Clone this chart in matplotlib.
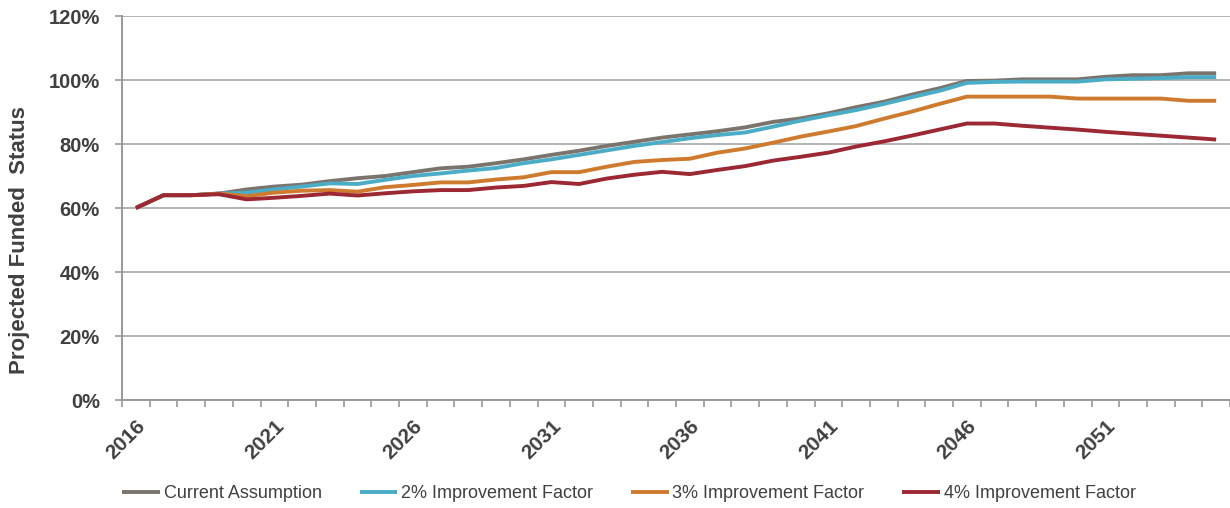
import matplotlib
matplotlib.use("Agg")
import matplotlib.pyplot as plt
import numpy as np
from matplotlib.ticker import FixedLocator, FuncFormatter

years = list(range(2016, 2056))
current = [60, 64, 64, 64.5, 65.8, 66.7, 67.3, 68.4, 69.3, 70.0,
           71.2, 72.4, 72.9, 74.0, 75.2, 76.6, 77.9, 79.4, 80.7, 82.0,
           83.0, 84.0, 85.2, 86.9, 88.0, 89.6, 91.5, 93.2, 95.4, 97.4,
           99.7, 99.8, 100.2, 100.2, 100.2, 101.0, 101.5, 101.5, 102.1, 102.1]
imp2 = [60, 64, 64, 64.5, 64.8, 65.8, 66.7, 67.7, 67.5, 68.8,
        70.0, 70.8, 71.7, 72.5, 74.0, 75.2, 76.6, 78.0, 79.4, 80.6,
        81.8, 82.8, 83.6, 85.4, 87.3, 89.0, 90.6, 92.5, 94.6, 96.6,
        99.1, 99.4, 99.5, 99.5, 99.5, 100.2, 100.4, 100.6, 100.9, 100.9]
imp3 = [60, 64, 64, 64.5, 63.7, 64.8, 65.4, 65.6, 65.1, 66.5,
        67.2, 68.0, 68.0, 68.9, 69.6, 71.2, 71.2, 72.9, 74.4, 75.0,
        75.4, 77.3, 78.6, 80.4, 82.3, 83.9, 85.6, 87.9, 90.1, 92.5,
        94.8, 94.8, 94.8, 94.8, 94.2, 94.2, 94.2, 94.2, 93.5, 93.5]
imp4 = [60, 64, 64, 64.3, 62.7, 63.2, 63.8, 64.5, 63.9, 64.6,
        65.2, 65.6, 65.6, 66.4, 66.9, 68.1, 67.5, 69.2, 70.4, 71.3,
        70.6, 71.9, 73.1, 74.8, 76.0, 77.3, 79.2, 80.8, 82.6, 84.5,
        86.4, 86.4, 85.7, 85.1, 84.5, 83.8, 83.2, 82.6, 82.0, 81.4]
series_names = ["Current Assumption", "2% Improvement Factor",
                "3% Improvement Factor", "4% Improvement Factor"]
colors = ["#7b746d", "#4bacc6", "#cf7b2f", "#9b2833"]
label_years = [2016, 2021, 2026, 2031, 2036, 2041, 2046, 2051]
y_ticks = [0, 20, 40, 60, 80, 100, 120]

plt.rcParams['font.family'] = ['Liberation Sans', 'DejaVu Sans']

fig = plt.figure(figsize=(12.3, 5.08), dpi=100)
ax = fig.add_axes([122/1230, 1 - 400/508, (1230 - 122)/1230, (400 - 16)/508])

for vals, name, c in zip([current, imp2, imp3, imp4], series_names, colors):
    ax.plot(years, vals, color=c, lw=2.8, label=name, solid_capstyle='butt',
            solid_joinstyle='round', zorder=3)

ax.set_xlim(years[0] - 0.5, years[-1] + 0.5)
ax.set_ylim(0, 120)

ax.yaxis.set_major_locator(FixedLocator(y_ticks))
ax.yaxis.set_major_formatter(FuncFormatter(lambda v, p: f"{int(v)}%"))
ax.grid(axis='y', color='#a6a6a6', lw=1.2, zorder=0)
ax.set_axisbelow(True)

ax.set_xticks(label_years)
ax.set_xticklabels([str(y) for y in label_years], rotation=45, ha='right',
                   va='top', rotation_mode='anchor', fontweight='bold',
                   fontsize=15, color='#404040')
ax.set_xticks(np.arange(years[0] - 0.5, years[-1] + 1.0, 1.0), minor=True)
ax.tick_params(axis='x', which='major', length=0, pad=12)
ax.tick_params(axis='x', which='minor', length=5, width=1.2, color='#999999')
ax.tick_params(axis='y', length=5, width=1.2, color='#999999', pad=11,
               labelsize=14.5, labelcolor='#404040')
for lab in ax.get_yticklabels():
    lab.set_fontweight('bold')

for s in ['top', 'right']:
    ax.spines[s].set_visible(False)
for s in ['left', 'bottom']:
    ax.spines[s].set_color('#999999')
    ax.spines[s].set_linewidth(1.4)

fig.text(20/1230, 1 - 240/508, "Projected Funded  Status", rotation=90,
         ha='center', va='center', fontsize=16, fontweight='bold',
         color='#404040')

leg = fig.legend(loc='center', bbox_to_anchor=(629/1230, 1 - 494/508), ncol=4,
                 frameon=False, fontsize=13, handlelength=2.1,
                 handletextpad=0.2, columnspacing=2.1, borderpad=0)
for t in leg.get_texts():
    t.set_color('#404040')

fig.savefig("out.png", dpi=100)
